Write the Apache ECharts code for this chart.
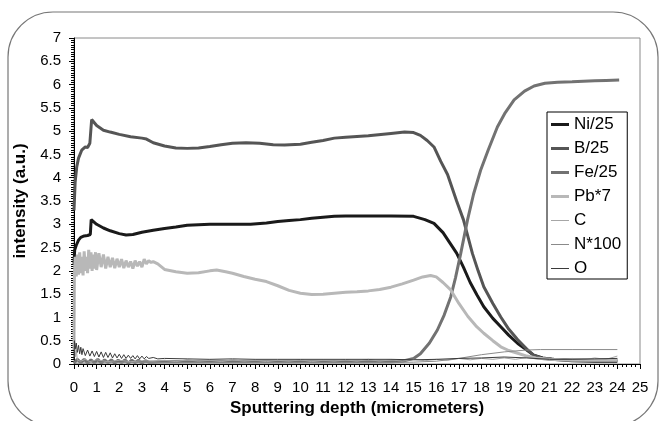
<!DOCTYPE html>
<html>
<head>
<meta charset="utf-8">
<script src="https://cdn.jsdelivr.net/npm/echarts@6/dist/echarts.min.js"></script>
<style>
  html, body { margin: 0; padding: 0; background: #fff; }
  #chart { width: 660px; height: 421px; }
</style>
</head>
<body>
<div id="chart"></div>
<script>
// depth (micrometers), intensity (a.u.)
var niData = [[0,2.15],[0.03,2.45],[0.1,2.55],[0.2,2.66],[0.3,2.72],[0.45,2.75],[0.6,2.76],[0.72,2.78],[0.76,3.1],[0.82,3.1],[1.0,3.0],[1.3,2.92],[1.6,2.86],[2.0,2.8],[2.3,2.77],[2.6,2.78],[3.0,2.83],[3.5,2.87],[4.0,2.91],[4.5,2.94],[5.0,2.98],[5.5,2.99],[6,3.0],[7,3.0],[7.8,3.0],[8.5,3.03],[9,3.06],[9.5,3.08],[10,3.1],[10.5,3.13],[11,3.15],[11.5,3.17],[12,3.18],[13,3.18],[14,3.18],[15,3.17],[15.5,3.1],[15.9,3.02],[16.3,2.82],[16.6,2.6],[16.9,2.38],[17.2,2.08],[17.5,1.75],[17.8,1.48],[18.1,1.23],[18.5,0.98],[18.85,0.8],[19.2,0.62],[19.6,0.44],[20,0.3],[20.3,0.19],[20.7,0.13],[21.1,0.1],[22,0.07],[23,0.06],[24,0.06]];
var bData = [[0,3.3],[0.05,3.9],[0.12,4.23],[0.2,4.42],[0.34,4.59],[0.5,4.66],[0.6,4.65],[0.7,4.74],[0.74,4.72],[0.78,5.25],[0.85,5.22],[1.0,5.12],[1.3,5.02],[1.6,4.98],[2.0,4.93],[2.5,4.88],[3.0,4.85],[3.2,4.83],[3.5,4.75],[4.0,4.68],[4.5,4.64],[5,4.63],[5.5,4.64],[6,4.67],[6.5,4.71],[7,4.74],[7.6,4.75],[8.2,4.74],[8.8,4.71],[9.3,4.70],[10,4.72],[10.5,4.76],[11,4.8],[11.5,4.85],[12,4.87],[13,4.9],[14,4.95],[14.6,4.98],[15,4.97],[15.3,4.91],[15.6,4.8],[15.9,4.66],[16.2,4.35],[16.5,4.07],[16.9,3.5],[17.2,3.1],[17.6,2.37],[17.85,2.0],[18.1,1.66],[18.5,1.3],[18.85,1.01],[19.2,0.75],[19.6,0.52],[20,0.32],[20.3,0.19],[20.7,0.12],[21.2,0.1],[22,0.09],[23,0.08],[24,0.08]];
var feData = [[0,0.02],[0.15,0.1],[0.3,0.03],[0.45,0.1],[0.6,0.02],[0.75,0.09],[0.9,0.03],[1.05,0.1],[1.2,0.02],[1.35,0.09],[1.5,0.03],[1.65,0.09],[1.8,0.02],[1.95,0.08],[2.1,0.03],[2.25,0.09],[2.4,0.02],[2.55,0.08],[2.7,0.03],[2.85,0.08],[3.0,0.02],[3.15,0.07],[3.3,0.04],[4,0.05],[6,0.05],[8,0.05],[10,0.05],[12,0.05],[14,0.05],[14.5,0.06],[15,0.12],[15.3,0.22],[15.7,0.45],[16.05,0.73],[16.35,1.05],[16.64,1.44],[16.85,1.85],[17.08,2.37],[17.38,3.09],[17.65,3.65],[17.96,4.16],[18.3,4.6],[18.7,5.09],[19.05,5.4],[19.44,5.67],[19.9,5.86],[20.32,5.97],[20.8,6.03],[21.36,6.05],[22,6.06],[22.5,6.07],[23,6.08],[23.5,6.09],[24.08,6.1]];
var pbData = [[0,0.3],[0.02,1.9],[0.05,2.3],[0.1,1.88],[0.15,2.35],[0.2,1.92],[0.25,2.4],[0.3,1.95],[0.35,2.3],[0.4,1.9],[0.45,2.42],[0.5,2.0],[0.55,2.3],[0.6,1.95],[0.65,2.45],[0.7,2.05],[0.75,2.4],[0.8,2.0],[0.85,2.35],[0.9,2.05],[0.95,2.4],[1.0,2.02],[1.1,2.38],[1.2,2.08],[1.3,2.35],[1.4,2.05],[1.5,2.3],[1.6,2.08],[1.7,2.28],[1.8,2.06],[1.9,2.26],[2.0,2.08],[2.1,2.25],[2.2,2.06],[2.3,2.22],[2.4,2.08],[2.5,2.2],[2.6,2.05],[2.7,2.22],[2.8,2.1],[2.9,2.2],[3.0,2.08],[3.1,2.25],[3.2,2.15],[3.3,2.22],[3.4,2.18],[3.5,2.2],[3.7,2.15],[4.0,2.03],[4.5,1.98],[5.0,1.95],[5.5,1.96],[6.0,2.0],[6.3,2.02],[6.7,1.98],[7.0,1.95],[7.5,1.88],[8.0,1.82],[8.5,1.77],[9.0,1.68],[9.5,1.58],[10,1.52],[10.5,1.49],[11,1.5],[11.5,1.52],[12,1.54],[12.5,1.55],[13,1.57],[13.5,1.6],[14,1.65],[14.5,1.72],[15,1.8],[15.4,1.87],[15.75,1.9],[16.0,1.87],[16.3,1.75],[16.64,1.59],[17.0,1.3],[17.4,1.02],[17.75,0.82],[18.1,0.66],[18.5,0.5],[18.85,0.37],[19.2,0.29],[19.6,0.23],[20.0,0.17],[20.4,0.13],[21,0.1],[22,0.08],[23,0.08],[24,0.08]];
var cData = [[0,1.8],[0.02,0.6],[0.05,0.15],[0.1,0.3],[0.15,0.08],[0.2,0.12],[0.3,0.06],[0.5,0.1],[0.7,0.05],[1,0.09],[1.5,0.05],[2,0.08],[2.5,0.05],[3,0.07],[3.5,0.06],[4,0.08],[4.5,0.05],[5,0.09],[5.5,0.06],[6,0.08],[6.5,0.05],[7,0.09],[7.5,0.06],[8,0.08],[8.5,0.05],[9,0.08],[9.5,0.06],[10,0.09],[10.5,0.05],[11,0.08],[11.5,0.06],[12,0.09],[12.5,0.06],[13,0.1],[13.5,0.06],[14,0.09],[14.5,0.06],[15,0.1],[15.5,0.07],[16,0.1],[16.5,0.08],[17,0.12],[17.5,0.09],[18,0.12],[18.5,0.1],[19,0.13],[19.5,0.1],[20,0.14],[20.5,0.11],[21,0.12],[21.5,0.09],[22,0.12],[22.5,0.09],[23,0.13],[23.5,0.1],[24,0.17]];
var nData = [[0,0.02],[2,0.03],[5,0.03],[8,0.03],[11,0.03],[14,0.03],[15,0.04],[16,0.06],[17,0.12],[18,0.2],[19,0.26],[20,0.3],[20.6,0.31],[22,0.31],[24,0.31]];
var oData = [[0,0.1],[0.02,0.5],[0.05,0.32],[0.1,0.45],[0.15,0.25],[0.2,0.4],[0.25,0.22],[0.3,0.36],[0.35,0.2],[0.4,0.33],[0.5,0.18],[0.6,0.3],[0.7,0.17],[0.8,0.28],[0.9,0.16],[1.0,0.27],[1.1,0.15],[1.2,0.26],[1.3,0.14],[1.4,0.25],[1.5,0.14],[1.6,0.24],[1.7,0.13],[1.8,0.22],[1.9,0.13],[2.0,0.21],[2.1,0.12],[2.2,0.2],[2.3,0.12],[2.4,0.19],[2.5,0.12],[2.6,0.18],[2.7,0.11],[2.8,0.18],[2.9,0.11],[3.0,0.17],[3.1,0.11],[3.2,0.16],[3.3,0.12],[3.5,0.14],[3.7,0.11],[4,0.12],[5,0.11],[6,0.1],[7,0.11],[8,0.1],[9,0.1],[10,0.1],[11,0.1],[12,0.1],[13,0.1],[14,0.1],[15,0.09],[16,0.1],[17,0.12],[18,0.13],[19,0.15],[20,0.13],[21,0.1],[22,0.1],[23,0.11],[24,0.12]];

var seriesNames = ['Ni/25', 'B/25', 'Fe/25', 'Pb*7', 'C', 'N*100', 'O'];
var seriesData = [niData, bData, feData, pbData, cData, nData, oData];
var seriesColors = ['#1a1a1a', '#555555', '#727272', '#b8b8b8', '#a6a6a6', '#8a8a8a', '#3a3a3a'];
var seriesWidths = [3, 3, 3, 3, 1, 1, 1];

var font = 'Liberation Sans, Arial, sans-serif';

var chart = echarts.init(document.getElementById('chart'), null, { renderer: 'canvas' });

var series = seriesNames.map(function(name, i) {
  return {
    name: name,
    type: 'line',
    data: seriesData[i],
    symbol: 'none',
    smooth: false,
    lineStyle: { color: seriesColors[i], width: seriesWidths[i] },
    itemStyle: { color: seriesColors[i] }
  };
});

// legend keys drawn as plain line strokes, thick or thin like the series
var legendData = seriesNames.map(function(name, i) {
  var h = seriesWidths[i];
  return {
    name: name,
    icon: 'path://M0,0H18V' + h + 'H0Z',
    itemStyle: { color: seriesColors[i], borderWidth: 0 },
    textStyle: { color: '#000' }
  };
});

chart.setOption({
  animation: false,
  backgroundColor: '#fff',
  graphic: [{
    type: 'rect',
    shape: { x: 8, y: 12, width: 650, height: 414, r: 45 },
    style: { fill: 'none', stroke: '#777', lineWidth: 1.2 },
    z: -1
  }],
  grid: {
    left: 74, right: 20, top: 38, bottom: 57,
    show: true, borderColor: '#8a8a8a', borderWidth: 1,
    containLabel: false, outerBoundsMode: 'none'
  },
  legend: {
    orient: 'vertical',
    left: 547, top: 112,
    padding: [4, 6, 2, 4],
    borderColor: '#000', borderWidth: 1,
    backgroundColor: '#fff',
    itemWidth: 18, itemHeight: 14, itemGap: 7,
    symbolKeepAspect: true,
    textStyle: { fontFamily: font, fontSize: 17, color: '#000' },
    data: legendData
  },
  xAxis: {
    type: 'value', min: 0, max: 25, interval: 1,
    name: 'Sputtering depth (micrometers)',
    nameLocation: 'middle', nameGap: 28,
    nameTextStyle: { fontFamily: font, fontSize: 17, fontWeight: 'bold', color: '#000' },
    axisLine: { show: true, onZero: false, lineStyle: { color: '#000', width: 1 } },
    axisTick: { show: true, length: 5, lineStyle: { color: '#000' } },
    minorTick: { show: true, splitNumber: 5, length: 3, lineStyle: { color: '#000' } },
    axisLabel: { fontFamily: font, fontSize: 15, color: '#000', margin: 16 },
    splitLine: { show: false }
  },
  yAxis: {
    type: 'value', min: 0, max: 7, interval: 0.5,
    name: 'intensity (a.u.)',
    nameLocation: 'middle', nameGap: 38,
    nameTextStyle: { fontFamily: font, fontSize: 17, fontWeight: 'bold', color: '#000' },
    axisLine: { show: true, onZero: false, lineStyle: { color: '#000', width: 1 } },
    axisTick: { show: true, length: 5, lineStyle: { color: '#000' } },
    minorTick: { show: true, splitNumber: 10, length: 3, lineStyle: { color: '#000' } },
    axisLabel: { fontFamily: font, fontSize: 15, color: '#000', margin: 13 },
    splitLine: { show: false }
  },
  series: series
});
window.addEventListener('resize', function() { chart.resize(); });
</script>
</body>
</html>
